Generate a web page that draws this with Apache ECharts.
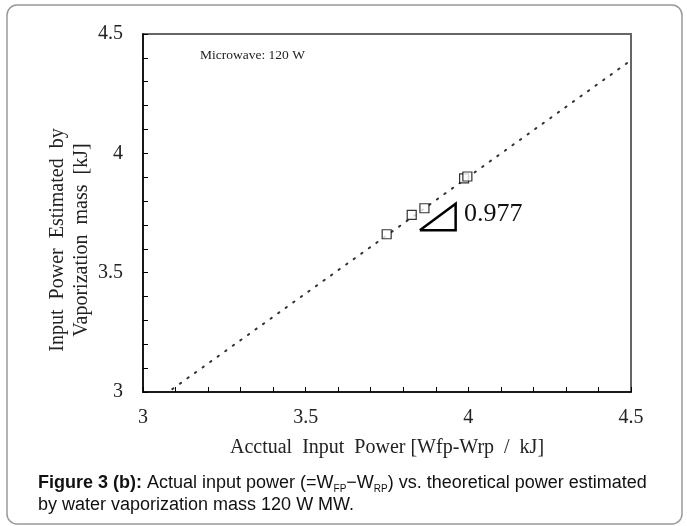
<!DOCTYPE html>
<html>
<head>
<meta charset="utf-8">
<script src="https://cdn.jsdelivr.net/npm/echarts@6/dist/echarts.min.js"></script>
<style>
  html, body { margin: 0; padding: 0; background: #fff; }
  #chart { width: 687px; height: 526px; }
</style>
</head>
<body>
<div id="chart"></div>
<script>
// measured points (actual input power, estimated power) [kJ]
var actualPower = [3.749, 3.826, 3.865, 3.987, 3.997]
var estimatedPower = [3.661, 3.742, 3.770, 3.895, 3.903]

// fitted line, slope 0.977 (end points)
var fitX = [3.09, 4.5]
var fitY = [3.012, 4.39]

// slope triangle
var triX = [3.851, 3.961, 3.961, 3.851]
var triY = [3.678, 3.678, 3.789, 3.678]

var axisTicks = [3, 3.5, 4, 4.5]

function pairs(xs, ys) {
  return xs.map(function (x, i) { return [x, ys[i]] })
}

var serif = '"Liberation Serif", "DejaVu Serif", serif'
var sans = '"Liberation Sans", Arial, sans-serif'

var myChart = echarts.init(document.getElementById('chart'))

function axisCommon() {
  return {
    type: 'value',
    min: axisTicks[0],
    max: axisTicks[axisTicks.length - 1],
    interval: 0.5,
    axisLine: { show: true, lineStyle: { color: '#000', width: 1.5 } },
    axisTick: { show: true, inside: true, length: 5, lineStyle: { color: '#000' } },
    minorTick: { show: true, splitNumber: 5, length: 5, lineStyle: { color: '#000' } },
    splitLine: { show: false },
    axisLabel: { color: '#222', fontFamily: serif, fontSize: 20 }
  }
}

var xAxis = axisCommon()
xAxis.axisLabel.margin = 16
xAxis.name = 'Acctual  Input  Power [Wfp-Wrp  /  kJ]'
xAxis.nameLocation = 'middle'
xAxis.nameGap = 46
xAxis.nameTextStyle = { color: '#222', fontFamily: serif, fontSize: 20 }

var yAxis = axisCommon()
yAxis.axisLabel.margin = 20

myChart.setOption({
  animation: false,
  grid: {
    left: 143, top: 34, width: 488, height: 358,
    show: true, borderColor: '#666', borderWidth: 2, backgroundColor: 'transparent'
  },
  xAxis: xAxis,
  yAxis: yAxis,
  series: [
    {
      type: 'line',
      data: pairs(fitX, fitY),
      symbol: 'none',
      lineStyle: { color: '#333', width: 2, type: [1.5, 7.8], cap: 'round' },
      z: 1
    },
    {
      type: 'line',
      data: pairs(triX, triY),
      symbol: 'none',
      lineStyle: { color: '#000', width: 2.5, join: 'miter' },
      z: 2
    },
    {
      type: 'scatter',
      data: pairs(actualPower, estimatedPower),
      symbol: 'rect',
      symbolSize: 9,
      itemStyle: { color: '#fff', borderColor: '#000', borderWidth: 1.2 },
      z: 3
    }
  ],
  graphic: [
    {
      type: 'rect',
      shape: { x: 7, y: 5, width: 675, height: 519, r: 10 },
      style: { fill: 'none', stroke: '#999', lineWidth: 1.5 },
      silent: true
    },
    {
      type: 'text',
      left: 200, top: 48,
      style: { text: 'Microwave: 120 W', font: '13.5px ' + serif, fill: '#222' }
    },
    {
      type: 'text',
      left: 464, top: 201,
      style: { text: '0.977', font: '26px ' + serif, fill: '#111' }
    },
    {
      type: 'text',
      x: 70, y: 240, rotation: Math.PI / 2,
      style: {
        text: 'Input  Power  Estimated  by\nVaporization  mass  [kJ]',
        font: '20px ' + serif, fill: '#222', align: 'center', verticalAlign: 'middle',
        lineHeight: 24
      }
    },
    {
      type: 'text',
      left: 38, top: 472,
      style: {
        text: '{b|Figure 3 (b):} Actual input power (=W{s|FP}\u2212W{s|RP}) vs. theoretical power estimated\nby water vaporization mass 120 W MW.',
        font: '18px ' + sans,
        fill: '#111',
        lineHeight: 22,
        rich: {
          b: { fontWeight: 'bold', fontSize: 18, fontFamily: sans, lineHeight: 22 },
          s: { fontSize: 10, fontFamily: sans, lineHeight: 11, verticalAlign: 'bottom' }
        }
      }
    }
  ]
})
</script>
</body>
</html>
